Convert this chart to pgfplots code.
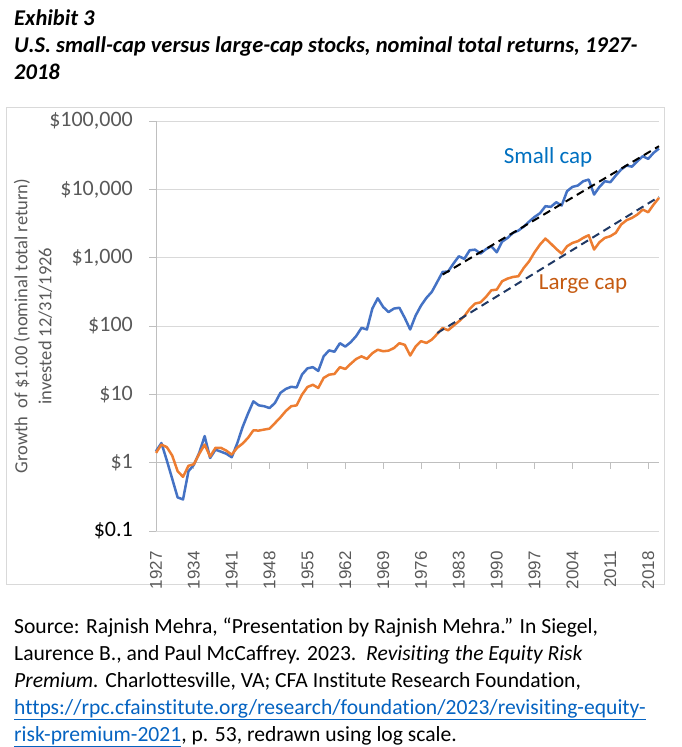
\documentclass[border=0pt]{standalone}
\usepackage{fontspec}
\setmainfont{Carlito}[RawFeature={-liga;-clig;-dlig;-calt}]
\newfontfamily\arialf{Liberation Sans}
\usepackage{pgfplots}
\pgfplotsset{compat=1.18}
\usepackage{pgfplotstable}
\definecolor{blueline}{HTML}{4472C4}
\definecolor{orangeline}{HTML}{ED7D31}
\definecolor{smalltext}{HTML}{0070C0}
\definecolor{largetext}{HTML}{C55A11}
\definecolor{gridgrey}{HTML}{D9D9D9}
\definecolor{axisgrey}{HTML}{BFBFBF}
\definecolor{labelgrey}{HTML}{595959}
\definecolor{navytrend}{HTML}{1F3864}
\definecolor{linkblue}{HTML}{0563C1}

\pgfplotstableread{
year small large
1927 1.47 1.39
1928 1.94 1.84
1929 1.08 1.69
1930 0.58 1.27
1931 0.31 0.75
1932 0.29 0.62
1933 0.75 0.90
1934 0.93 0.95
1935 1.40 1.35
1936 2.45 1.84
1937 1.17 1.23
1938 1.55 1.65
1939 1.45 1.65
1940 1.35 1.50
1941 1.20 1.31
1942 1.90 1.65
1943 3.30 1.90
1944 5.20 2.30
1945 7.90 2.97
1946 6.90 2.95
1947 6.70 3.05
1948 6.30 3.15
1949 7.50 3.80
1950 10.5 4.60
1951 12.0 5.70
1952 12.9 6.70
1953 12.6 6.90
1954 19.5 9.90
1955 24.0 12.8
1956 25.0 13.8
1957 22.0 12.4
1958 36.0 17.4
1959 44.0 19.4
1960 42.0 19.9
1961 56.0 25.0
1962 50.0 23.5
1963 58.0 28.0
1964 71.0 32.9
1965 94.0 36.0
1966 89.0 33.0
1967 180 40.0
1968 255 45.0
1969 190 42.7
1970 160 43.6
1971 180 47.6
1972 185 56.0
1973 131 53.0
1974 89 37.0
1975 142 50.0
1976 199 60.0
1977 258 56.5
1978 316 63.2
1979 442 76.6
1980 619 93.8
1981 626 86.5
1982 820 101
1983 1050 117
1984 960 139
1985 1285 178
1986 1310 213
1987 1148 222
1988 1330 266
1989 1470 333
1990 1200 341
1991 1718 452
1992 1945 494
1993 2303 522
1994 2494 535
1995 2853 708
1996 3377 887
1997 3953 1202
1998 4474 1556
1999 5664 1905
2000 5540 1607
2001 6477 1343
2002 5795 1148
2003 9400 1469
2004 10870 1644
2005 11370 1742
2006 13150 1950
2007 13900 2133
2008 8390 1315
2009 10870 1683
2010 13150 1950
2011 12700 2061
2012 15900 2307
2013 19500 3055
2014 22300 3532
2015 21500 3819
2016 25800 4276
2017 30500 5058
2018 27900 4624
2019 34200 5984
2020 39600 7499
}\capdata

\begin{document}
\begin{tikzpicture}
\path[use as bounding box] (0pt,0pt) rectangle (681pt,-747pt);
\draw[gridgrey, line width=0.75pt] (6pt,-107pt) rectangle (664pt,-584pt);
\begin{axis}[
  at={(156pt,-531pt)}, anchor=south west,
  scale only axis, width=503pt, height=410pt,
  xmin=1927, xmax=2020,
  ymode=log, ymin=0.1, ymax=100000,
  axis line style={draw=none},
  clip=false, no markers,
  xtick={1927,1934,1941,1948,1955,1962,1969,1976,1983,1990,1997,2004,2011,2018},
  xticklabels={1927,1934,1941,1948,1955,1962,1969,1976,1983,1990,1997,2004,2011,2018},
  xtick style={draw=none},
  ytick={0.1,1,10,100,1000,10000,100000},
  yticklabels={\textcolor{black}{\$0.1},\$1,\$10,\$100,{\$1,000},{\$10,000},{\$100,000}},
  yminorticks=false,
  ytick style={draw=axisgrey, line width=0.75pt},
  tick align=outside, major tick length=7pt,
  xtick pos=left, ytick pos=left,
  ymajorgrids, major grid style={draw=gridgrey, line width=0.75pt},
  xticklabel style={rotate=90, anchor=east, font=\arialf\fontsize{17}{17}\selectfont, text=labelgrey, inner sep=0pt},
  xticklabel shift=13pt,
  yticklabel style={anchor=east, font=\fontsize{22}{22}\selectfont, text=labelgrey, inner sep=0pt},
  yticklabel shift=16pt,
]
\draw[axisgrey, line width=0.75pt] (1927,0.1) -- (1927,100000);
\draw[axisgrey, line width=0.75pt] (1927,1) -- (2020,1);
\draw[axisgrey, line width=0.75pt] (1934,1) -- ++(0pt,-6pt);
\draw[axisgrey, line width=0.75pt] (1941,1) -- ++(0pt,-6pt);
\draw[axisgrey, line width=0.75pt] (1948,1) -- ++(0pt,-6pt);
\draw[axisgrey, line width=0.75pt] (1955,1) -- ++(0pt,-6pt);
\draw[axisgrey, line width=0.75pt] (1962,1) -- ++(0pt,-6pt);
\draw[axisgrey, line width=0.75pt] (1969,1) -- ++(0pt,-6pt);
\draw[axisgrey, line width=0.75pt] (1976,1) -- ++(0pt,-6pt);
\draw[axisgrey, line width=0.75pt] (1983,1) -- ++(0pt,-6pt);
\draw[axisgrey, line width=0.75pt] (1990,1) -- ++(0pt,-6pt);
\draw[axisgrey, line width=0.75pt] (1997,1) -- ++(0pt,-6pt);
\draw[axisgrey, line width=0.75pt] (2004,1) -- ++(0pt,-6pt);
\draw[axisgrey, line width=0.75pt] (2011,1) -- ++(0pt,-6pt);
\draw[axisgrey, line width=0.75pt] (2018,1) -- ++(0pt,-6pt);
\addplot[blueline, line width=2.5pt, line join=round] table[x=year, y=small] {\capdata};
\addplot[orangeline, line width=2.5pt, line join=round] table[x=year, y=large] {\capdata};
\addplot[black, line width=2pt, dash pattern=on 8pt off 5pt] coordinates {(1980,566) (2020,42800)};
\addplot[navytrend, line width=2pt, dash pattern=on 8pt off 5pt] coordinates {(1979,79) (2020,7770)};
\end{axis}
\node[anchor=base, text=smalltext, font=\fontsize{23}{23}\selectfont, inner sep=0pt] at (548pt,-163pt) {Small cap};
\node[anchor=base, text=largetext, font=\fontsize{23}{23}\selectfont, inner sep=0pt] at (583pt,-289pt) {Large cap};
\node[rotate=90, align=center, text=labelgrey, font=\fontsize{18.5}{24}\selectfont, inner sep=0pt] at (33pt,-326pt) {Growth \ of \$1.00 (nominal total return)\\invested 12/31/1926};
% title
\begin{scope}[every node/.style={anchor=base west, inner sep=0pt, font=\fontsize{22.5}{22.5}\selectfont\bfseries\itshape}]
\node at (14pt,-25pt) {Exhibit 3};
\node at (14pt,-52pt) {U.S. small-cap versus large-cap stocks, nominal total returns, 1927-};
\node at (14pt,-79pt) {2018};
\end{scope}
% source
\begin{scope}[every node/.style={anchor=base west, inner sep=0pt, font=\fontsize{21.6}{21.6}\selectfont}]
\node at (14pt,-633pt) {Source: Rajnish Mehra, “Presentation by Rajnish Mehra.” In Siegel,};
\node at (14pt,-660pt) {Laurence B., and Paul McCaffrey. 2023.\ \ \textit{Revisiting the Equity Risk}};
\node at (14pt,-687pt) {\textit{Premium.} Charlottesville, VA; CFA Institute Research Foundation,};
\node at (14pt,-714pt) {\textcolor{linkblue}{\underline{https://rpc.cfainstitute.org/research/foundation/2023/revisiting-equity-}}};
\node at (14pt,-741pt) {\textcolor{linkblue}{\underline{risk-premium-2021}}, p. 53, redrawn using log scale.};
\end{scope}
\end{tikzpicture}
\end{document}
